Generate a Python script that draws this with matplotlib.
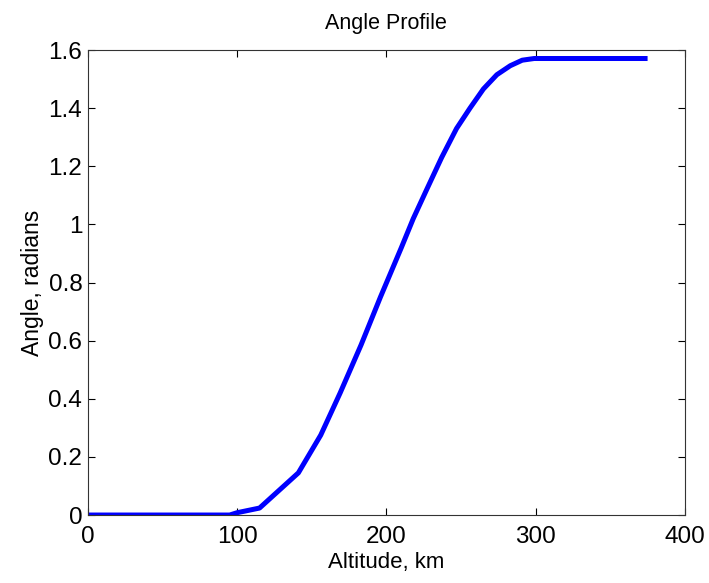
import matplotlib
matplotlib.use("Agg")
import matplotlib.pyplot as plt

plt.rcParams['font.family'] = ['Liberation Sans', 'DejaVu Sans']

# altitude (km) vs pitch angle (rad)
altitude = [0, 50, 95, 100, 115, 141, 156, 169, 183, 196, 210, 218, 227,
            237, 247, 256, 265, 274, 283, 291, 299, 330, 375]
angle = [0.0, 0.0, 0.0, 0.008, 0.024, 0.145, 0.275, 0.42, 0.585, 0.75, 0.92,
         1.02, 1.12, 1.23, 1.33, 1.40, 1.466, 1.515, 1.546, 1.565, 1.5708,
         1.5708, 1.5708]

xticks = [0, 100, 200, 300, 400]
yticks = [0, 0.2, 0.4, 0.6, 0.8, 1.0, 1.2, 1.4, 1.6]
ytick_labels = ['0', '0.2', '0.4', '0.6', '0.8', '1', '1.2', '1.4', '1.6']

fig = plt.figure(figsize=(7.09, 5.83), dpi=100)
ax = fig.add_axes([0.124, 0.1166, 0.842, 0.7976])

ax.plot(altitude, angle, color='#0000ff', linewidth=3.6, solid_capstyle='butt')

ax.set_xlim(0, 400)
ax.set_ylim(0, 1.6)
ax.set_xticks(xticks)
ax.set_yticks(yticks)
ax.set_yticklabels(ytick_labels)
ax.tick_params(direction='in', length=5, width=0.8, top=True, right=True,
               labelsize=17.5)
ax.tick_params(axis='x', pad=8)
ax.tick_params(axis='y', pad=4)
for s in ax.spines.values():
    s.set_linewidth(0.8)
    s.set_color('#333333')

ax.set_title('Angle Profile', fontsize=15.5, pad=15)
ax.set_xlabel('Altitude, km', fontsize=16, labelpad=3)
ax.set_ylabel('Angle, radians', fontsize=16.5, labelpad=3)

fig.savefig('out.png', dpi=100)
